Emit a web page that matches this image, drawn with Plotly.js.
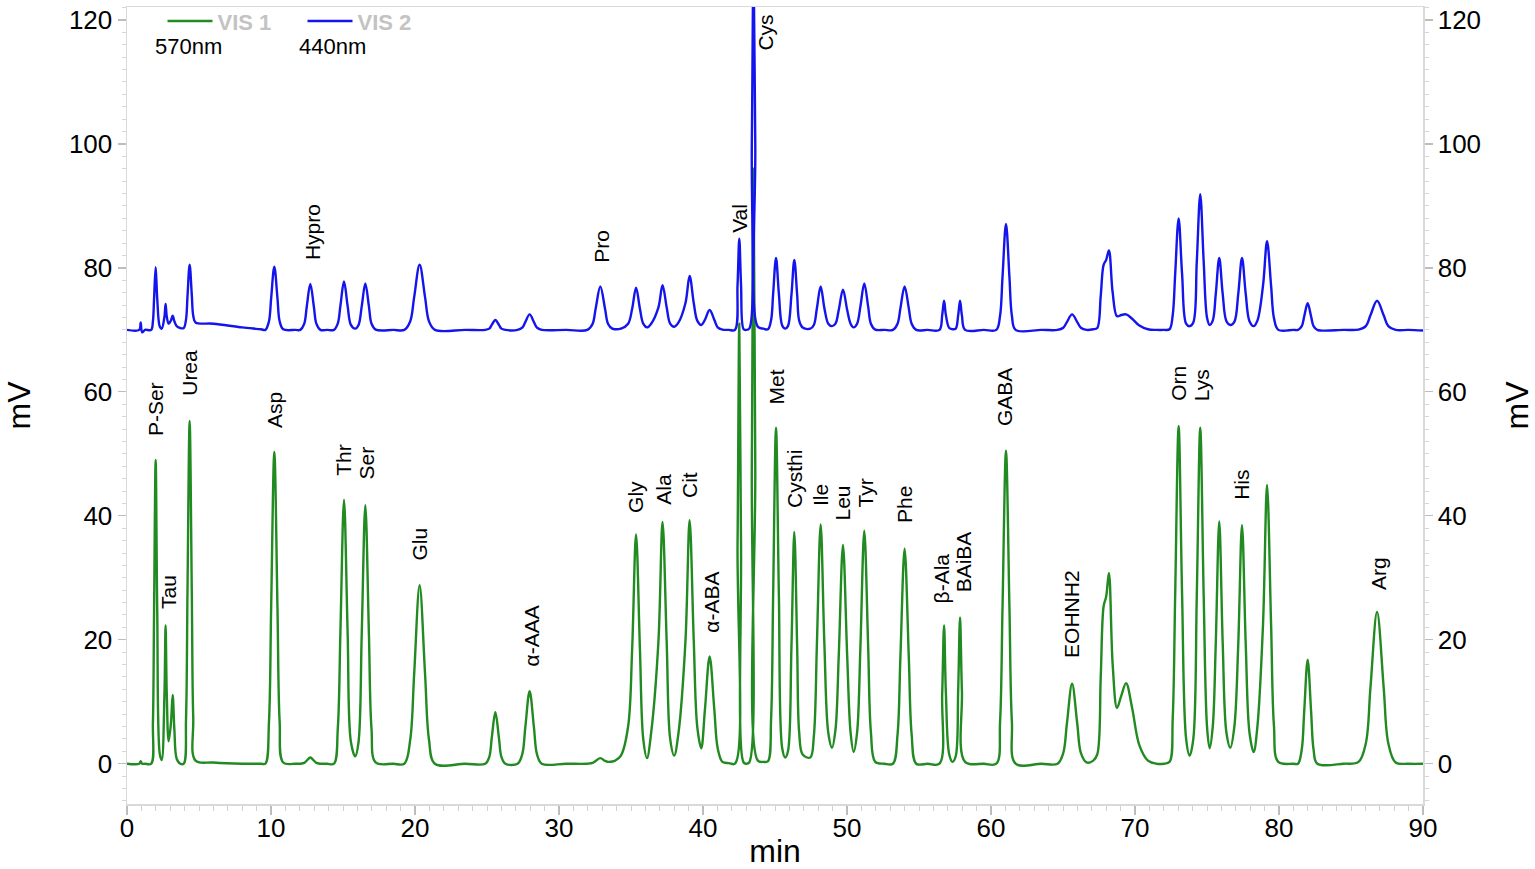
<!DOCTYPE html>
<html>
<head>
<meta charset="utf-8">
<script src="https://cdn.plot.ly/plotly-3.0.1.min.js"></script>
<style>html,body{margin:0;padding:0;background:#fff;}#chart{width:1535px;height:869px;}</style>
</head>
<body>
<div id="chart"></div>
<script>
// Retention time (min) of the points
const rtMin = [
  0.00, 0.85, 0.95, 1.05, 1.25,
  1.68, 1.80, 1.88, 1.99, 2.10, 2.28, 2.41, 2.60, 2.68, 2.76, 2.89, 3.05, 3.17, 3.29, 3.45, 3.70,
  3.94, 4.10, 4.20, 4.35, 4.50, 4.60, 4.76, 6.00, 8.00, 9.30,
  9.61, 9.86, 10.01, 10.23, 10.45, 10.60, 10.85, 11.70,
  12.03, 12.31, 12.48, 12.73, 12.98, 13.15, 13.43, 13.90,
  14.37, 14.64, 14.82, 15.07, 15.32, 15.55, 15.85, 16.08, 16.30, 16.55, 16.80, 16.98, 17.27, 18.50,
  19.26, 19.67, 19.94, 20.32, 20.70, 20.97, 21.38, 23.50,
  24.88, 25.16, 25.33, 25.58, 25.83, 26.00, 26.28,
  27.12, 27.45, 27.66, 27.96, 28.26, 28.47, 28.80, 30.50,
  31.97, 32.33, 32.55, 32.87, 33.19, 33.41, 33.70,
  33.90, 34.30, 34.80, 35.08, 35.35, 35.62, 35.85, 36.11, 36.40, 36.90, 37.19, 37.48, 37.72,
  38.00, 38.30, 38.78, 39.07, 39.36, 39.60, 39.88, 40.13, 40.46, 40.79, 41.02, 41.35,
  41.80, 42.22, 42.40, 42.52, 42.64, 42.82, 43.00, 43.21, 43.39, 43.51, 43.63, 43.81,
  44.20, 44.51, 44.73, 44.87, 45.07, 45.27, 45.50, 45.71, 45.90, 46.14, 46.34, 46.54, 46.68, 46.92,
  47.45, 47.70, 47.91, 48.17, 48.43, 48.70, 48.96, 49.20, 49.43, 49.72, 50.01, 50.25,
  50.46, 50.70, 50.93, 51.20, 51.47, 51.66, 51.96, 52.60,
  53.19, 53.51, 53.71, 54.00, 54.29, 54.49, 54.81, 55.60,
  56.42, 56.61, 56.74, 56.87, 57.10, 57.33, 57.55, 57.72, 57.85, 57.98, 58.20, 59.50,
  60.37, 60.63, 60.80, 61.04, 61.28, 61.45, 61.71, 63.50,
  64.62, 65.02, 65.27, 65.63, 65.99, 66.24, 66.64, 67.10,
  67.38, 67.62, 67.82, 68.00, 68.19, 68.45, 68.75, 69.05, 69.38, 69.80, 70.30, 70.90, 71.50,
  72.00, 72.40, 72.62, 72.79, 73.03, 73.27, 73.55, 73.79, 74.05, 74.29, 74.53, 74.77, 75.00,
  75.18, 75.40, 75.61, 75.85, 76.09, 76.35, 76.62, 76.90, 77.17, 77.43, 77.69, 77.95,
  78.24, 78.50, 78.89, 79.17, 79.45, 79.65, 79.95, 81.00,
  81.32, 81.58, 81.75, 81.99, 82.23, 82.40, 82.66, 84.50,
  85.52, 86.03, 86.35, 86.81, 87.27, 87.59, 88.10, 89.00, 90.00
];
// VIS 1 (570 nm) signal in mV at the same times
const vis1mV = [
  0, 0, 0.4, 0, 0,
  0, 6.6, 24.5, 49.0, 24.5, 1.5, 0.6, 11.2, 22.3, 11.5, 3.6, 6.5, 11.1, 5.5, 0.8, 0,
  0, 7.4, 27.6, 55.3, 27.6, 7.5, 0.5, 0.2, 0, 0,
  0, 6.8, 25.1, 50.3, 25.1, 6.8, 0.2, 0,
  0, 0.13, 0.5, 1.0, 0.5, 0.13, 0, 0,
  0, 5.75, 21.3, 42.6, 21.3, 3.5, 1.2, 3.5, 20.9, 41.7, 20.9, 5.6, 0.2, 0,
  0, 3.9, 14.4, 28.8, 14.4, 3.9, 0, 0,
  0, 1.1, 4.15, 8.3, 4.15, 1.1, 0,
  0, 1.55, 5.85, 11.7, 5.85, 1.55, 0, 0,
  0, 0.12, 0.45, 0.9, 0.45, 0.3, 0.35,
  0.5, 1.3, 6.0, 18.5, 37.0, 18.5, 4.0, 0.9, 5.0, 19.5, 39.0, 19.5, 4.0,
  1.3, 5.0, 19.7, 39.3, 19.7, 6.0, 2.5, 8.6, 17.3, 8.6, 2.5, 0.3,
  0.1, 0, 35.5, 71.0, 35.5, 0.2, 0, 0.2, 48.0, 96.0, 48.0, 0.5,
  0.3, 0.4, 7.3, 27.1, 54.2, 27.1, 2.5, 1.0, 2.0, 18.7, 37.4, 18.7, 5.0, 1.5,
  1.0, 4.5, 19.3, 38.6, 19.3, 5.0, 2.6, 5.5, 17.6, 35.3, 17.6, 5.0,
  1.9, 5.0, 18.8, 37.6, 18.8, 5.1, 0.3, 0,
  0, 4.7, 17.3, 34.7, 17.3, 4.7, 0, 0,
  0, 11.2, 22.3, 11.2, 1.5, 0.3, 1.2, 11.8, 23.6, 11.8, 0.3, 0,
  0, 6.8, 25.25, 50.5, 25.25, 6.8, 0, 0,
  0, 1.75, 6.45, 12.9, 6.45, 1.75, 0.2, 0.5,
  1.5, 14.0, 25.4, 27.0, 30.8, 16.0, 9.0, 11.0, 13.0, 9.0, 3.0, 0.5, 0,
  0, 0.3, 7.4, 27.25, 54.5, 27.25, 4.0, 1.3, 4.0, 27.1, 54.2, 27.1, 6.0,
  2.5, 6.0, 19.5, 39.1, 19.5, 5.0, 2.6, 6.0, 19.25, 38.5, 19.25, 5.0,
  1.9, 6.0, 22.5, 45.0, 22.5, 6.1, 0.3, 0,
  0, 2.3, 8.4, 16.8, 8.4, 2.3, 0, 0,
  0.3, 3.3, 12.25, 24.5, 12.25, 3.3, 0.2, 0, 0
];
// VIS 2 (440 nm) signal in mV at the same times
const vis2mV = [
  70.0, 70.0, 71.2, 69.6, 70.0,
  70.0, 71.4, 75.0, 80.1, 75.0, 70.5, 70.2, 72.1, 74.2, 72.2, 71.0, 71.5, 72.3, 71.4, 70.6, 70.3,
  70.3, 71.7, 75.4, 80.5, 75.6, 72.3, 71.2, 71.0, 70.4, 70.1,
  70.0, 71.4, 75.1, 80.2, 75.1, 71.4, 70.1, 70.0,
  70.0, 71.0, 73.7, 77.4, 73.7, 71.0, 70.0, 70.0,
  70.0, 71.05, 73.9, 77.8, 73.9, 70.8, 70.2, 70.8, 73.8, 77.5, 73.8, 71.0, 70.05, 70.0,
  70.0, 71.4, 75.25, 80.5, 75.25, 71.4, 70.0, 70.0,
  70.0, 70.2, 70.8, 71.6, 70.8, 70.2, 70.0,
  70.0, 70.35, 71.25, 72.5, 71.25, 70.35, 70.0, 70.0,
  70.0, 70.95, 73.5, 77.0, 73.5, 70.95, 70.2,
  70.1, 70.2, 71.0, 73.4, 76.8, 73.4, 71.0, 70.4, 71.0, 73.6, 77.2, 73.6, 71.0,
  70.5, 71.2, 74.3, 78.7, 74.3, 71.5, 70.8, 71.6, 73.2, 71.6, 70.4, 70.05,
  70.0, 70.0, 77.35, 84.7, 77.35, 70.1, 70.0, 70.2, 100.0, 130.0, 100.0, 70.5,
  70.2, 70.1, 71.6, 75.8, 81.6, 75.8, 70.7, 70.2, 70.6, 75.6, 81.3, 75.6, 71.5, 70.4,
  70.2, 70.8, 73.5, 77.0, 73.5, 71.0, 70.6, 71.0, 73.25, 76.5, 73.25, 71.0,
  70.4, 71.0, 73.75, 77.5, 73.75, 71.0, 70.05, 70.0,
  70.0, 71.0, 73.5, 77.0, 73.5, 71.0, 70.0, 70.0,
  70.0, 72.35, 74.7, 72.35, 70.3, 70.1, 70.2, 72.35, 74.7, 72.35, 70.0, 70.0,
  70.0, 72.3, 78.55, 87.1, 78.55, 72.3, 70.0, 70.0,
  70.0, 70.35, 71.25, 72.5, 71.25, 70.35, 70.0, 70.1,
  70.3, 75.5, 80.5, 81.3, 82.8, 76.0, 72.2, 72.4, 72.5, 71.8, 70.7, 70.1, 70.0,
  70.0, 70.1, 72.4, 79.0, 88.0, 79.0, 71.0, 70.6, 71.2, 81.0, 91.9, 81.0, 72.0,
  70.8, 71.5, 75.8, 81.6, 75.8, 71.4, 70.8, 71.3, 75.8, 81.6, 75.8, 71.4,
  70.6, 71.5, 77.15, 84.3, 77.15, 71.9, 70.0, 70.0,
  70.0, 70.6, 72.15, 74.3, 72.15, 70.6, 70.0, 70.0,
  70.05, 70.6, 72.35, 74.7, 72.35, 70.6, 70.0, 70.0, 69.9
];

// Peak labels: name, time (min) of the label, mV where the rotated text starts
const labelNames = ['P-Ser','Tau','Urea','Asp','Hypro','Thr','Ser','Glu','α-AAA','Pro','Gly','Ala','Cit','α-ABA',
  'Val','Cys','Met','Cysthi','Ile','Leu','Tyr','Phe','β-Ala','BAiBA','GABA','EOHNH2','Orn','Lys','His','Arg'];
const labelTime = [1.97, 2.9, 4.33, 10.25, 12.87, 14.99, 16.62, 20.33, 28.1, 32.94, 35.3, 37.2, 39.05, 40.58,
  42.52, 44.33, 45.09, 46.34, 48.15, 49.68, 51.27, 53.98, 56.55, 58.08, 60.99, 65.58, 73.0, 74.6, 77.38, 86.9];
const labelMv = [52.6, 24.6, 59.1, 53.8, 81.0, 46.1, 45.5, 32.5, 15.4, 80.5, 40.2, 41.5, 42.6, 20.8,
  85.3, 114.8, 57.6, 41.0, 41.3, 38.9, 41.0, 38.5, 25.6, 27.3, 54.2, 16.8, 58.2, 58.2, 42.3, 27.7];

const seriesNames = ['VIS 1', 'VIS 2'];
const wavelengths = ['570nm', '440nm'];
const yRange = [-6.5, 122.1];
const xRange = [0, 90];

const FONT = 'Liberation Sans, Arial, sans-serif';
const GREEN = '#218a21';
const BLUE = '#1414ec';

const traces = [
  {x: rtMin, y: vis1mV, name: seriesNames[0], type: 'scatter', mode: 'lines',
   line: {color: GREEN, width: 2.4, shape: 'spline', smoothing: 1}, yaxis: 'y'},
  {x: rtMin, y: vis2mV, name: seriesNames[1], type: 'scatter', mode: 'lines',
   line: {color: BLUE, width: 2.4, shape: 'spline', smoothing: 1}, yaxis: 'y2'}
];

const annotations = labelNames.map((n, i) => ({
  x: labelTime[i], y: labelMv[i], xref: 'x', yref: 'y', text: n, showarrow: false,
  textangle: -90, xanchor: 'center', yanchor: 'bottom',
  font: {family: FONT, size: 21, color: '#000'}
}));
annotations.push({x: 0.0473, y: 0.951, xref: 'paper', yref: 'paper', text: wavelengths[0], showarrow: false,
  xanchor: 'center', yanchor: 'middle', font: {family: FONT, size: 22, color: '#000'}});
annotations.push({x: 0.1584, y: 0.951, xref: 'paper', yref: 'paper', text: wavelengths[1], showarrow: false,
  xanchor: 'center', yanchor: 'middle', font: {family: FONT, size: 22, color: '#000'}});

const axisCommon = {
  showgrid: false, zeroline: false, showline: true, linecolor: '#d9d9d9', linewidth: 1.5,
  ticks: 'outside', ticklen: 8, tickwidth: 1.2, tickcolor: '#bdbdbd',
  tickfont: {family: FONT, size: 26, color: '#000'}
};

const layout = {
  width: 1535, height: 869,
  margin: {l: 127, r: 112, t: 7, b: 65, autoexpand: false},
  paper_bgcolor: '#fff', plot_bgcolor: '#fff',
  font: {family: FONT},
  showlegend: true,
  legend: {orientation: 'h', x: 0.0274, xanchor: 'left', y: 1.0085, yanchor: 'top',
    font: {family: FONT, size: 22, color: '#c3c3c3', weight: 'bold'},
    bgcolor: 'rgba(0,0,0,0)', itemwidth: 45, entrywidth: 80, entrywidthmode: 'pixels'},
  xaxis: Object.assign({}, axisCommon, {
    range: xRange, dtick: 10, tick0: 0, ticklen: 9, mirror: true, ticklabelstandoff: -9,
    minor: {dtick: 1, ticks: 'outside', ticklen: 5, tickcolor: '#d0d0d0', tickwidth: 1},
    title: {text: 'min', font: {family: FONT, size: 32, color: '#000'}, standoff: 9}
  }),
  yaxis: Object.assign({}, axisCommon, {
    range: yRange, dtick: 20, tick0: 0, ticklabelstandoff: 0,
    minor: {dtick: 2, ticks: 'outside', ticklen: 4, tickcolor: '#d6d6d6', tickwidth: 1},
    title: {text: 'mV', font: {family: FONT, size: 32, color: '#000'}, standoff: 28}
  }),
  yaxis2: Object.assign({}, axisCommon, {
    range: yRange, dtick: 20, tick0: 0, overlaying: 'y', side: 'right', ticklabelstandoff: 0,
    minor: {dtick: 2, ticks: 'outside', ticklen: 4, tickcolor: '#d6d6d6', tickwidth: 1},
    title: {text: 'mV', font: {family: FONT, size: 32, color: '#000'}, standoff: 35}
  }),
  annotations: annotations
};

if (rtMin.length !== vis1mV.length || rtMin.length !== vis2mV.length) {
  console.error('length mismatch', rtMin.length, vis1mV.length, vis2mV.length);
}

Plotly.newPlot('chart', traces, layout, {displayModeBar: false, staticPlot: true});
</script>
</body>
</html>
